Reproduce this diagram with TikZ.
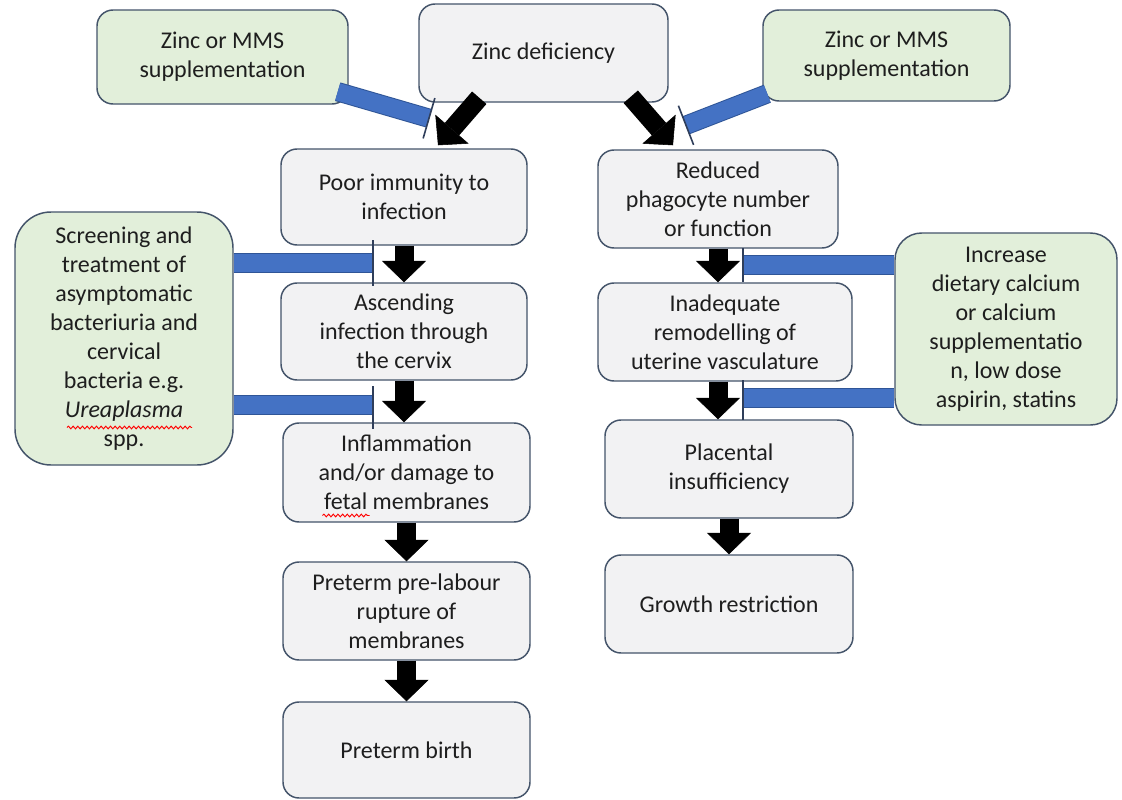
\documentclass[tikz,border=0pt]{standalone}
\usepackage{fontspec}
\setmainfont{Carlito}
\usetikzlibrary{arrows.meta,calc,decorations.pathmorphing}

\definecolor{boxline}{HTML}{44546A}
\definecolor{greyfill}{HTML}{F2F2F3}
\definecolor{greenfill}{HTML}{E2EFDA}
\definecolor{barblue}{HTML}{4472C4}
\definecolor{baredge}{HTML}{2F5597}
\definecolor{tbar}{HTML}{2F3E5A}
\definecolor{ink}{HTML}{1E1E1E}

\tikzset{
  base/.style={draw=boxline, line width=1.1pt, align=center, text=ink,
    font=\fontsize{18}{21.75}\selectfont, inner sep=0pt},
  stepbox/.style={base, fill=greyfill, rounded corners=12pt},
  actbox/.style={base, fill=greenfill},
  flow/.style={draw=black, line width=14.25pt,
    -{Triangle[width=33pt,length=16pt,line width=0.4pt]}},
  inhib/.style={draw=barblue, line width=13pt,
    preaction={draw=baredge, line width=14.5pt}},
  tline/.style={draw=tbar, line width=1.2pt},
  spellmark/.style={draw=red, line width=0.7pt,
    decorate, decoration={snake, amplitude=1pt, segment length=3.5pt}},
}

\begin{document}
\begin{tikzpicture}[x=0.75pt,y=-0.75pt]
\useasboundingbox (0,0) rectangle (1122,800);
\fill[white] (0,0) rectangle (1122,800);

% top row
\node[actbox, rounded corners=12pt, minimum width=188.25pt, minimum height=70.5pt]
  (zincL) at (222.5,57) {Zinc or MMS\\supplementation};
\node[stepbox, minimum width=186.75pt, minimum height=73.5pt]
  (zinc) at (543.5,53) {Zinc deficiency};
\node[actbox, rounded corners=12pt, minimum width=185.25pt, minimum height=68.25pt]
  (zincR) at (886.5,55.5) {Zinc or MMS\\supplementation};

% left pathway
\node[stepbox, minimum width=184.5pt, minimum height=72pt]
  (poor) at (404,197) {Poor immunity to\\infection};
\node[stepbox, minimum width=184.5pt, minimum height=72.75pt]
  (ascend) at (404,331.5) {Ascending\\infection through\\the cervix};
\node[stepbox, minimum width=185.25pt, minimum height=74.25pt]
  (inflam) at (406.5,472.5) {Inflammation\\and/or damage to\\fetal membranes};
\node[stepbox, minimum width=185.25pt, minimum height=73.5pt]
  (pprom) at (406.5,611) {Preterm pre-labour\\rupture of\\membranes};
\node[stepbox, minimum width=185.25pt, minimum height=72pt]
  (birth) at (406.5,750) {Preterm birth};

% right pathway
\node[stepbox, minimum width=180pt, minimum height=73.5pt]
  (reduced) at (718,199) {Reduced\\phagocyte number\\or function};
\node[stepbox, minimum width=190.5pt, minimum height=73.5pt]
  (inadeq) at (725,332) {Inadequate\\remodelling of\\uterine vasculature};
\node[stepbox, minimum width=186pt, minimum height=73.5pt]
  (placen) at (729,469) {Placental\\insufficiency};
\node[stepbox, minimum width=186pt, minimum height=73.5pt]
  (growth) at (729,604) {Growth restriction};

% interventions at the sides
\node[actbox, rounded corners=27pt, minimum width=163.5pt, minimum height=189.75pt]
  (screen) at (124,338.5) {Screening and\\treatment of\\asymptomatic\\bacteriuria and\\cervical\\bacteria e.g.\\\textit{Ureaplasma}\\spp.};
\node[actbox, rounded corners=20pt, minimum width=166.5pt, minimum height=144pt]
  (calc) at (1006,329) {Increase\\dietary calcium\\or calcium\\supplementatio\\n, low dose\\aspirin, statins};

% spell-check squiggles under two words
\draw[spellmark] ($(screen.center)+(-57,89)$) -- ($(screen.center)+(68,89)$);
\draw[spellmark] ($(inflam.center)+(-84,43)$) -- ($(inflam.center)+(-37,43)$);

% end points of the blocking bars
\coordinate (sb1) at (373,263);
\coordinate (sb2) at (373,405);
\coordinate (cb1) at (743,265);
\coordinate (cb2) at (743,398);
\coordinate (zlS) at ($(zincL.south east)+(-11,-13)$);
\coordinate (zlE) at ($(poor.north)+(25,-30)$);
\coordinate (zrS) at ($(zincR.south west)+(5,-8)$);
\coordinate (zrE) at ($(reduced.north)+(-32,-24)$);

% blocking bars
\draw[inhib] (zlS) -- (zlE);
\draw[tline] ($(zlE)!15.75pt!90:(zlS)$) -- ($(zlE)!15.75pt!-90:(zlS)$);
\draw[inhib] (zrS) -- (zrE);
\draw[tline] ($(zrE)!15.75pt!90:(zrS)$) -- ($(zrE)!15.75pt!-90:(zrS)$);
\draw[inhib] (screen.east |- sb1) -- (sb1);
\draw[tline] ($(sb1)+(0,-23)$) -- ($(sb1)+(0,23)$);
\draw[inhib] (screen.east |- sb2) -- (sb2);
\draw[tline] ($(sb2)+(0,-19)$) -- ($(sb2)+(0,24)$);
\draw[inhib] (calc.west |- cb1) -- (cb1);
\draw[tline] ($(cb1)+(0,-17)$) -- ($(cb1)+(0,17)$);
\draw[inhib] (calc.west |- cb2) -- (cb2);
\draw[tline] ($(cb2)+(0,-18)$) -- ($(cb2)+(0,22)$);

% causal arrows
\draw[flow] ($(zinc.south west)+(61,-5)$) -- ($(poor.north)+(34,-3)$);
\draw[flow] ($(zinc.south east)+(-38,-6)$) -- ($(reduced.north)+(-45,-4)$);
\draw[flow] (poor.south) -- (poor.south |- ascend.north);
\draw[flow] (ascend.south) -- (ascend.south |- inflam.north);
\draw[flow] (inflam.south) -- (pprom.north);
\draw[flow] (pprom.south) -- (birth.north);
\draw[flow] (reduced.south) -- (reduced.south |- inadeq.north);
\draw[flow] (reduced.south |- inadeq.south) -- (reduced.south |- placen.north);
\draw[flow] (placen.south) -- (growth.north);
\end{tikzpicture}
\end{document}
